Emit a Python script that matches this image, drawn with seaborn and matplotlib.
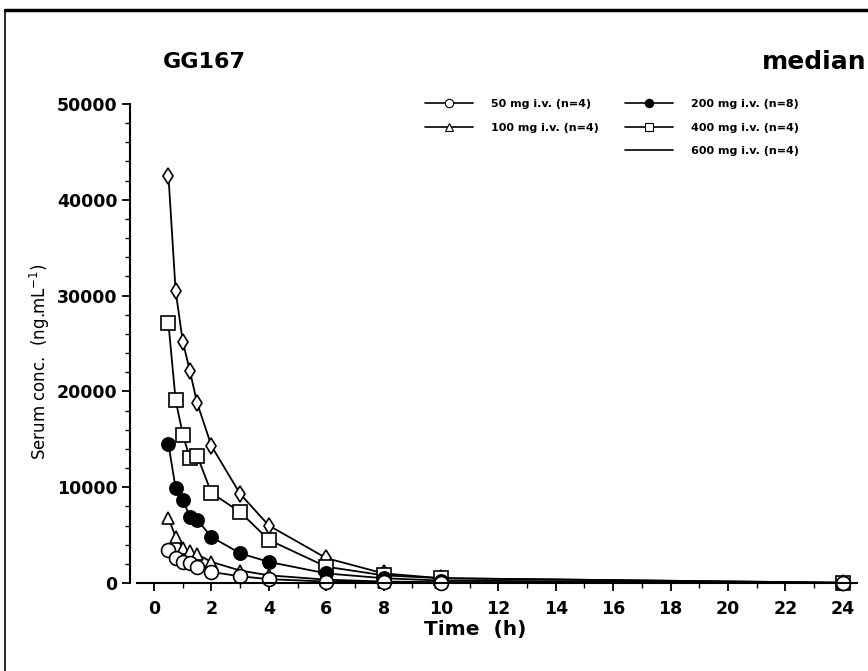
import numpy as np
import pandas as pd
import matplotlib
matplotlib.use('Agg')
import matplotlib.pyplot as plt
import seaborn as sns
from matplotlib.lines import Line2D
from matplotlib.ticker import MultipleLocator

# sampling times (h)
times = [0.5, 0.75, 1.0, 1.25, 1.5, 2, 3, 4, 6, 8, 10, 24]

# median serum concentrations (ng/mL) per dose
conc_50 = [3400, 2600, 2200, 2100, 1700, 1150, 700, 400, 150, 70, 40, 0]
conc_100 = [6800, 4800, 3700, 3300, 3000, 2200, 1300, 800, 350, 150, 80, 10]
conc_200 = [14500, 9900, 8700, 6900, 6600, 4800, 3100, 2200, 1000, 500, 250, 10]
conc_400 = [27100, 19100, 15500, 13000, 13300, 9400, 7400, 4500, 1700, 800, 500, 30]
conc_600 = [42500, 30500, 25200, 22100, 18800, 14300, 9300, 6000, 2600, 1000, 500, 30]

dose_labels = ["50 mg i.v. (n=4)", "100 mg i.v. (n=4)", "200 mg i.v. (n=8)",
               "400 mg i.v. (n=4)", "600 mg i.v. (n=4)"]

series = {
    dose_labels[0]: conc_50,
    dose_labels[1]: conc_100,
    dose_labels[2]: conc_200,
    dose_labels[3]: conc_400,
    dose_labels[4]: conc_600,
}
styles = {
    dose_labels[0]: dict(marker="o", mfc="white", ms=10),
    dose_labels[1]: dict(marker="^", mfc="white", ms=9),
    dose_labels[2]: dict(marker="o", mfc="black", ms=9.5),
    dose_labels[3]: dict(marker="s", mfc="white", ms=10),
    dose_labels[4]: dict(marker="d", mfc="white", ms=8),
}

sns.set_style("white")
plt.rcParams['font.family'] = ['DejaVu Sans']
plt.rcParams.update({"text.color": "black", "axes.labelcolor": "black",
                     "xtick.color": "black", "ytick.color": "black"})

fig = plt.figure(figsize=(8.68, 6.71), dpi=100)
ax = fig.add_axes([130 / 868, 88 / 671, 727 / 868, 479 / 671])

for lab in reversed(dose_labels):
    df = pd.DataFrame({"time": times, "conc": series[lab]})
    st = styles[lab]
    sns.lineplot(data=df, x="time", y="conc", color="black", linewidth=1.3,
                 marker=st["marker"], mfc=st["mfc"], mec="black", mew=1.2,
                 markersize=st["ms"], clip_on=False, ax=ax, legend=False)

ax.set_xlim(-0.84, 24.5)
ax.set_ylim(0, 50000)
ax.set_xticks(np.arange(0, 25, 2))
ax.xaxis.set_minor_locator(MultipleLocator(1))
ax.set_yticks(np.arange(0, 50001, 10000))
ax.yaxis.set_minor_locator(MultipleLocator(2000))

for s in ["top", "right"]:
    ax.spines[s].set_visible(False)
ax.spines["left"].set_bounds(0, 50000)
ax.spines["bottom"].set_bounds(-0.6, 24.5)
for s in ["left", "bottom"]:
    ax.spines[s].set_color("black")
    ax.spines[s].set_linewidth(1.5)

ax.tick_params(which="major", direction="out", length=6, width=1.3, color="black",
               labelsize=12.5, pad=3, left=True, bottom=True)
ax.tick_params(which="minor", direction="out", length=3.5, width=1.0, color="black",
               left=True, bottom=True)
ax.tick_params(axis="x", which="major", pad=6)
for t in ax.get_xticklabels() + ax.get_yticklabels():
    t.set_fontweight("bold")
ax.set_xlabel("")
ax.set_ylabel("")

fig.text(475 / 868, 1 - 629 / 671, "Time  (h)", fontsize=14.5, fontweight="bold",
         ha="center", va="center")
fig.text(40 / 868, 1 - 362 / 671, "Serum conc.  (ng.mL$^{-1}$)", fontsize=12,
         rotation=90, ha="center", va="center")
fig.text(163 / 868, 1 - 62 / 671, "GG167", fontsize=16, fontweight="bold",
         ha="left", va="center")
fig.text(866 / 868, 1 - 62 / 671, "median", fontsize=18, fontweight="bold",
         ha="right", va="center")

# legend handles
def handle(lab, show_marker=True):
    st = styles[lab]
    return Line2D([], [], color="black", linewidth=1.2,
                  marker=st["marker"] if show_marker else None,
                  mfc=st["mfc"], mec="black", mew=0.8, markersize=6)

leg_kw = dict(frameon=False, loc="upper left", bbox_transform=fig.transFigure,
              borderpad=0, borderaxespad=0, handlelength=4.3, handletextpad=1.6,
              labelspacing=1.22, prop={"size": 8, "weight": "bold"})
leg1 = ax.legend([handle(dose_labels[0]), handle(dose_labels[1])],
                 dose_labels[:2], bbox_to_anchor=(425 / 868, 1 - 99 / 671), **leg_kw)
ax.add_artist(leg1)
ax.legend([handle(dose_labels[2]), handle(dose_labels[3]), handle(dose_labels[4], False)],
          dose_labels[2:], bbox_to_anchor=(625 / 868, 1 - 99 / 671), **leg_kw)

# scanned page frame
fig.add_artist(Line2D([5 / 868, 1.0], [1 - 10 / 671, 1 - 10 / 671],
                      transform=fig.transFigure, color="black", linewidth=2.5))
fig.add_artist(Line2D([5 / 868, 5 / 868], [0, 1 - 10 / 671],
                      transform=fig.transFigure, color="black", linewidth=1.2))

fig.savefig("out.png", dpi=100)
